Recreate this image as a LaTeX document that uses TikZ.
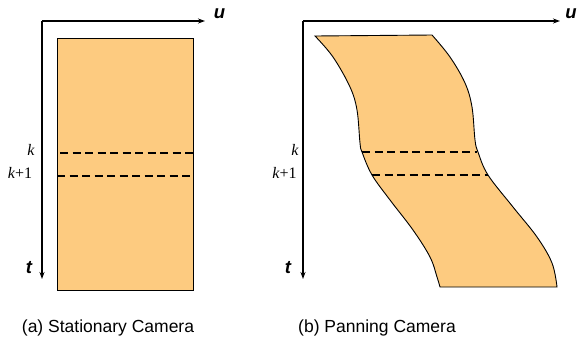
\documentclass[tikz,border=0pt]{standalone}
\usepackage{fontspec}
\setmainfont{Liberation Serif}
\setsansfont{Liberation Sans}
\usetikzlibrary{arrows.meta}
\definecolor{stripfill}{RGB}{253,203,128}
\tikzset{
  axis/.style={line width=1.4pt,-{Stealth[length=7pt,width=5pt]}},
  slab/.style={fill=stripfill,draw=black,line width=0.9pt},
  rowline/.style={line width=1.4pt,dash pattern=on 8pt off 4.5pt},
  axlabel/.style={font=\sffamily\bfseries\itshape\fontsize{18.5}{18.5}\selectfont,inner sep=0pt},
  rowlabel/.style={font=\rmfamily\fontsize{16}{16}\selectfont,inner sep=0pt},
  caption/.style={font=\sffamily\fontsize{17.5}{17.5}\selectfont,inner sep=0pt}
}
\begin{document}
\begin{tikzpicture}[x=1pt,y=-1pt]
\useasboundingbox (0,0) rectangle (577,346);
% ---- left panel
\coordinate (oa) at (42,21);
\coordinate (ua) at (205,21);
\coordinate (ta) at (42,279);
\draw[slab] (57,38) rectangle (193,290);
\draw[rowline] (60,153) -- (193,153);
\draw[rowline] (57,176) -- (193,176);
\draw[axis] (ta|-oa) -- (ua);
\draw[axis] (oa) -- (ta);
\node[axlabel] (lu) at (219.5,14) {u};
\node[axlabel] (lt) at (29,268) {t};
\node[rowlabel] (lk) at (31,150) {\textit{k}};
\node[rowlabel] (lk1) at (20,173) {\textit{k}+1};
\node[caption] (ca) at (108,328) {(a) Stationary Camera};
% ---- right panel
\coordinate (ob) at (303,21);
\coordinate (ub) at (560,21);
\coordinate (tb) at (303,279);
\filldraw[slab] (315,36) -- (432,35)
  -- plot[smooth,tension=0.6] coordinates {(432,35) (450,57) (465,83) (472,107) (475,140) (478,152) (488,175) (513,207) (537,237) (552,263) (557,287)}
  -- (440,287)
  -- plot[smooth,tension=0.6] coordinates {(440,287) (437,277) (430,257) (413,230) (390,200) (372,175) (362,152) (360,143) (357,110) (350,87) (333,57) (315,36)}
  -- cycle;
\draw[rowline] (362,152) -- (477,152);
\draw[rowline] (372,175) -- (488,175);
\draw[axis] (ob) -- (ub);
\draw[axis] (ob) -- (tb);
\node[axlabel] (ru) at (571,14) {u};
\node[axlabel] (rt) at (288,268) {t};
\node[rowlabel] (rk) at (295,150) {\textit{k}};
\node[rowlabel] (rk1) at (284.5,173) {\textit{k}+1};
\node[caption] (cb) at (377,328) {(b) Panning Camera};
\end{tikzpicture}
\end{document}
